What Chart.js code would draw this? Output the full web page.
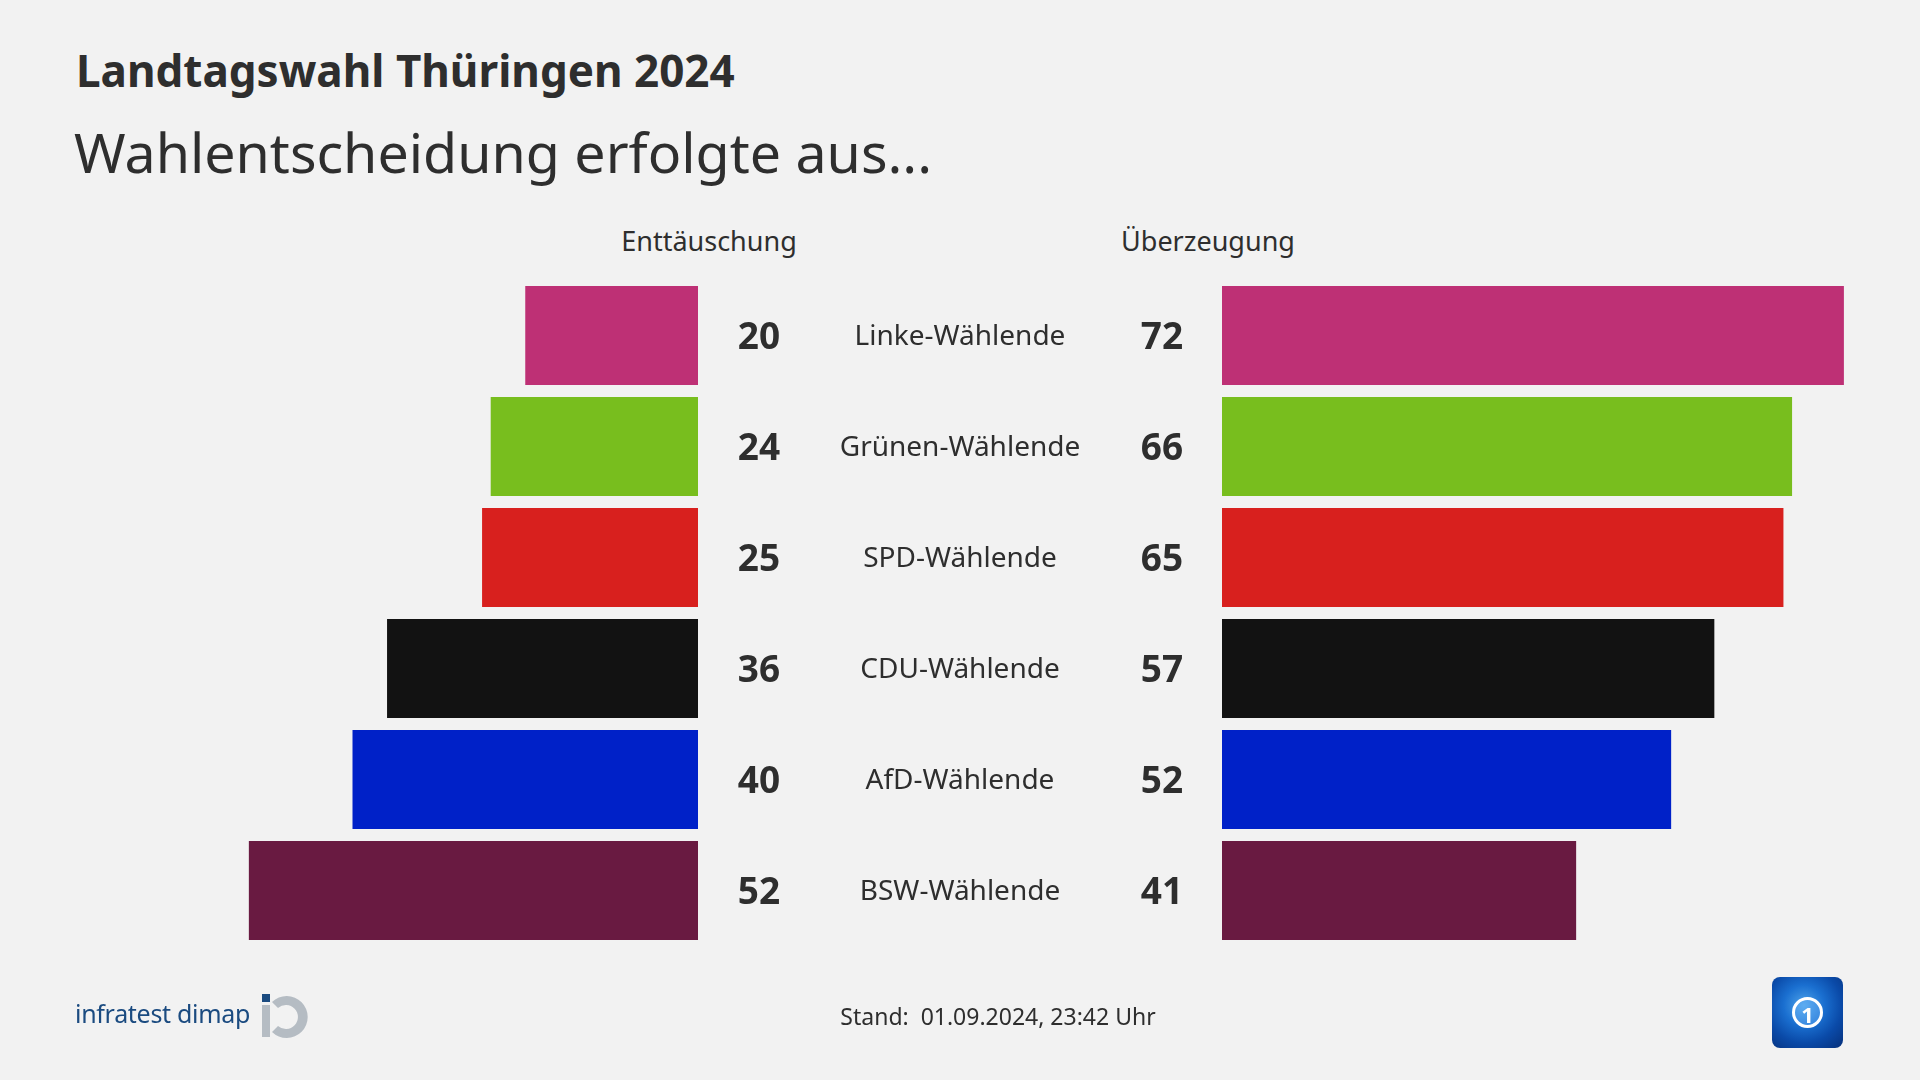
<!DOCTYPE html>
<html lang="de">
<head>
<meta charset="utf-8">
<title>Landtagswahl Thüringen 2024</title>
<script src="https://cdn.jsdelivr.net/npm/chart.js@4.4.1/dist/chart.umd.min.js"></script>
<style>
  html, body { margin: 0; padding: 0; }
  body {
    width: 1920px; height: 1080px; position: relative; overflow: hidden;
    background: #f2f2f2; color: #2e2e2e; font-family: "Noto Sans", sans-serif;
  }
  .txt { position: absolute; line-height: 1; white-space: nowrap; }
  #title { left: 76px; top: 48px; font-size: 44px; font-weight: 700; }
  #subtitle { left: 74px; top: 124px; font-size: 55.5px; }
  .head { font-size: 27px; top: 227px; transform: translateX(-50%); }
  #stand { left: 998px; top: 1005px; font-size: 23px; transform: translateX(-50%); }
  #infratest { left: 75px; top: 1001px; font-size: 25px; color: #1b4b80; letter-spacing: -0.3px; }
  canvas { position: absolute; top: 0; }
  #ardLogo {
    position: absolute; left: 1772px; top: 977px; width: 71px; height: 71px; border-radius: 8px;
    background: radial-gradient(circle at 45% 40%, #4fa4ea 0%, #1a6fd0 35%, #0a4aa8 65%, #06307a 100%);
  }
  #ardLogo .ring {
    position: absolute; left: 20px; top: 20px; width: 25px; height: 25px; border-radius: 50%;
    border: 3px solid #fff; background: rgba(120,190,255,0.35);
  }
  #ardLogo .one {
    position: absolute; left: 0; top: 22px; width: 71px; text-align: center;
    color: #fff; font: 700 22px "Noto Sans", sans-serif;
  }
</style>
</head>
<body>
<div class="txt" id="title">Landtagswahl Thüringen 2024</div>
<div class="txt" id="subtitle">Wahlentscheidung erfolgte aus...</div>
<div class="txt head" style="left:709px">Enttäuschung</div>
<div class="txt head" style="left:1208px">Überzeugung</div>

<canvas id="leftChart" width="1222" height="1080" style="left:0"></canvas>
<canvas id="rightChart" width="698" height="1080" style="left:1222px"></canvas>

<div class="txt" id="infratest">infratest dimap</div>
<svg style="position:absolute;left:259px;top:992px" width="50" height="50" viewBox="0 0 50 50">
  <rect x="3" y="2" width="8" height="8" fill="#1b4b80"/>
  <rect x="3" y="13" width="8" height="32" fill="#b5bcc3"/>
  <path d="M13 10 A21 21 0 1 1 13 40 L19 34 A12 12 0 1 0 19 16 Z" fill="#b5bcc3"/>
</svg>
<div class="txt" id="stand">Stand:&nbsp; 01.09.2024, 23:42 Uhr</div>
<div id="ardLogo"><div class="ring"></div><div class="one">1</div></div>

<script>
const groups = ['Linke-Wählende', 'Grünen-Wählende', 'SPD-Wählende', 'CDU-Wählende', 'AfD-Wählende', 'BSW-Wählende'];
const disappointment = [20, 24, 25, 36, 40, 52];
const conviction = [72, 66, 65, 57, 52, 41];
const partyColors = ['#be3075', '#78be1e', '#d8201e', '#121212', '#0021c8', '#691a41'];

const textColor = '#2e2e2e';

// writes the numbers and group names in the gap between the two bar blocks
const middleText = {
  id: 'middleText',
  afterDatasetsDraw(chart) {
    const ctx = chart.ctx;
    const y = chart.scales.y;
    const edge = chart.chartArea.right;
    ctx.save();
    ctx.fillStyle = textColor;
    ctx.textAlign = 'center';
    ctx.textBaseline = 'middle';
    groups.forEach((g, i) => {
      const yp = y.getPixelForValue(i);
      ctx.font = '700 37px "Noto Sans", sans-serif';
      ctx.fillText(disappointment[i], edge + 61, yp + 3);
      ctx.fillText(conviction[i], edge + 464, yp + 3);
      ctx.font = '28px "Noto Sans", sans-serif';
      ctx.fillText(g, edge + 262, yp + 2);
    });
    ctx.restore();
  }
};

const makeOptions = (reverse, padding) => ({
  indexAxis: 'y',
  responsive: false,
  animation: false,
  layout: { padding },
  scales: {
    x: { display: false, reverse, min: 0, max: 80 },
    y: { display: false }
  },
  plugins: {
    legend: { display: false },
    tooltip: { enabled: false }
  }
});

new Chart(document.getElementById('leftChart'), {
  type: 'bar',
  data: {
    labels: groups,
    datasets: [{
      data: disappointment,
      backgroundColor: partyColors,
      barPercentage: 0.892,
      categoryPercentage: 1
    }]
  },
  options: makeOptions(true, { top: 280, bottom: 134, left: 7, right: 524 }),
  plugins: [middleText]
});

new Chart(document.getElementById('rightChart'), {
  type: 'bar',
  data: {
    labels: groups,
    datasets: [{
      data: conviction,
      backgroundColor: partyColors,
      barPercentage: 0.892,
      categoryPercentage: 1
    }]
  },
  options: makeOptions(false, { top: 280, bottom: 134, left: 0, right: 7 })
});
</script>
</body>
</html>
